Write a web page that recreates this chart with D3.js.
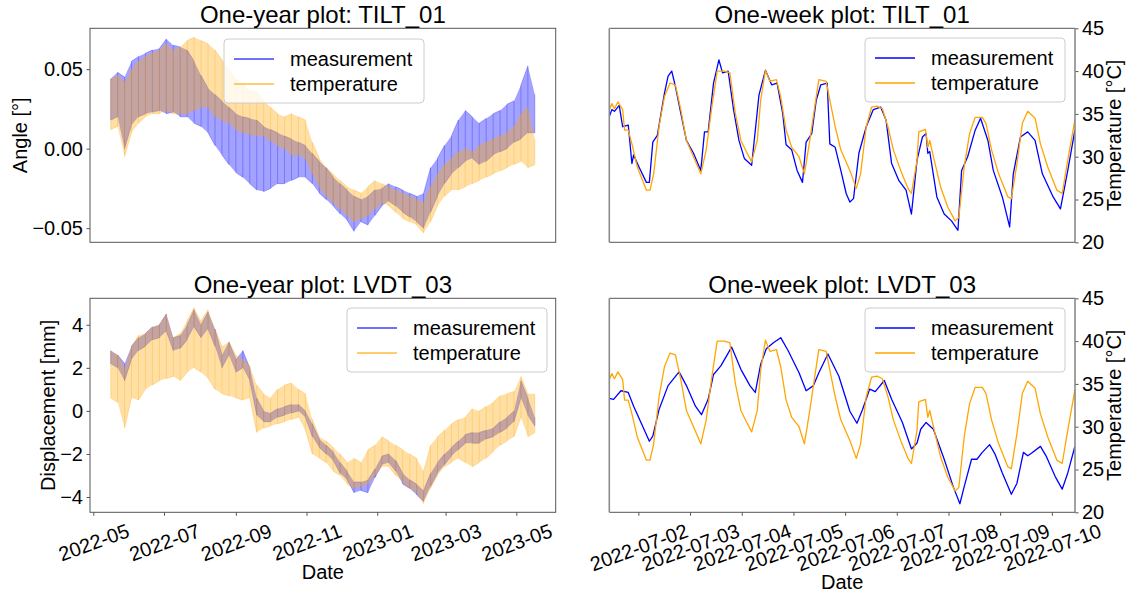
<!DOCTYPE html>
<html>
<head>
<meta charset="utf-8">
<script src="https://cdn.jsdelivr.net/npm/d3@7"></script>
<style>
  body { margin: 0; background: #fff; }
  #chart { font-family: "Liberation Sans", Arial, sans-serif; }
</style>
</head>
<body>
<svg id="chart" width="1129" height="594"></svg>
<script>
// ---------- one-year data (sampled every 6 days, upper / lower edge of the daily swing) ----------
const yearDates = [
  "2022-05-16","2022-05-22","2022-05-28","2022-06-03","2022-06-09","2022-06-15","2022-06-21","2022-06-27",
  "2022-07-03","2022-07-09","2022-07-15","2022-07-21","2022-07-27","2022-08-02","2022-08-08","2022-08-14",
  "2022-08-20","2022-08-26","2022-09-01","2022-09-07","2022-09-13","2022-09-19","2022-09-25","2022-10-01",
  "2022-10-07","2022-10-13","2022-10-19","2022-10-25","2022-10-31","2022-11-06","2022-11-12","2022-11-18",
  "2022-11-24","2022-11-30","2022-12-06","2022-12-12","2022-12-18","2022-12-24","2022-12-30","2023-01-05",
  "2023-01-11","2023-01-17","2023-01-23","2023-01-29","2023-02-04","2023-02-10","2023-02-16","2023-02-22",
  "2023-02-28","2023-03-06","2023-03-12","2023-03-18","2023-03-24","2023-03-30","2023-04-05","2023-04-11",
  "2023-04-17","2023-04-23","2023-04-29","2023-05-05","2023-05-11","2023-05-17"
];

const tiltYearMeasHi = [0.044,0.048,0.045,0.055,0.058,0.060,0.062,0.063,0.069,0.065,0.064,0.062,0.055,0.046,0.038,0.034,
  0.030,0.026,0.022,0.020,0.019,0.018,0.014,0.012,0.010,0.008,0.006,0.004,0.002,-0.003,-0.008,-0.012,
  -0.018,-0.022,-0.026,-0.030,-0.032,-0.030,-0.026,-0.025,-0.022,-0.024,-0.026,-0.028,-0.030,-0.028,-0.012,-0.006,
  0.002,0.008,0.018,0.024,0.020,0.016,0.019,0.022,0.024,0.028,0.030,0.040,0.052,0.034];
const tiltYearMeasLo = [0.018,0.020,0.000,0.015,0.020,0.022,0.023,0.024,0.022,0.023,0.020,0.020,0.016,0.014,0.010,0.002,
  -0.004,-0.010,-0.015,-0.018,-0.022,-0.026,-0.027,-0.025,-0.022,-0.022,-0.020,-0.018,-0.018,-0.022,-0.028,-0.032,
  -0.036,-0.041,-0.045,-0.052,-0.046,-0.048,-0.042,-0.036,-0.033,-0.036,-0.040,-0.043,-0.046,-0.050,-0.040,-0.030,
  -0.022,-0.016,-0.012,-0.008,-0.006,-0.010,-0.008,-0.004,-0.002,0.000,0.004,0.006,0.010,0.010];
const tiltYearTempHi = [0.044,0.046,0.042,0.050,0.055,0.058,0.060,0.062,0.066,0.062,0.064,0.068,0.070,0.068,0.066,0.062,
  0.056,0.050,0.044,0.040,0.037,0.036,0.030,0.026,0.022,0.020,0.022,0.020,0.018,0.004,-0.006,-0.012,
  -0.016,-0.020,-0.024,-0.026,-0.028,-0.024,-0.020,-0.022,-0.024,-0.026,-0.028,-0.030,-0.032,-0.034,-0.024,-0.016,
  -0.010,-0.006,-0.002,0.000,-0.002,0.002,0.004,0.006,0.008,0.010,0.014,0.022,0.026,0.006];
const tiltYearTempLo = [0.012,0.014,-0.005,0.010,0.016,0.020,0.022,0.022,0.024,0.022,0.022,0.022,0.024,0.026,0.026,0.020,
  0.018,0.016,0.012,0.010,0.009,0.008,0.008,0.005,0.002,0.000,-0.004,-0.004,-0.006,-0.016,-0.024,-0.030,
  -0.034,-0.038,-0.042,-0.046,-0.044,-0.042,-0.038,-0.034,-0.036,-0.040,-0.044,-0.046,-0.048,-0.053,-0.046,-0.036,
  -0.030,-0.026,-0.026,-0.024,-0.022,-0.020,-0.018,-0.016,-0.014,-0.012,-0.010,-0.008,-0.012,-0.010];

const lvdtYearMeasHi = [2.8,2.6,2.2,3.0,3.4,3.6,3.9,4.0,4.5,3.4,3.5,4.0,4.7,4.0,4.6,3.8,2.6,3.2,2.4,2.8,
  2.0,0.6,0.0,-0.1,0.1,0.2,0.3,0.3,0.0,-0.6,-1.3,-1.6,-1.9,-2.4,-2.8,-3.3,-3.3,-3.2,-2.7,-2.1,
  -2.0,-2.3,-2.9,-3.2,-3.4,-3.7,-2.9,-2.4,-2.0,-1.7,-1.4,-1.1,-1.0,-1.0,-0.9,-0.8,-0.5,-0.3,0.0,1.4,0.6,-0.3];
const lvdtYearMeasLo = [2.2,2.0,1.4,2.4,2.8,3.0,3.3,3.4,3.7,2.8,2.9,3.3,3.9,3.4,3.8,3.0,2.0,2.6,1.8,2.0,
  1.4,-0.2,-0.5,-0.5,-0.3,-0.2,-0.1,0.0,-0.3,-1.2,-1.7,-2.0,-2.3,-2.9,-3.2,-3.8,-3.7,-3.8,-3.1,-2.5,
  -2.4,-2.8,-3.4,-3.6,-3.9,-4.2,-3.5,-2.9,-2.5,-2.1,-1.8,-1.5,-1.5,-1.5,-1.3,-1.2,-1.0,-0.8,-0.5,0.6,-0.2,-0.7];
const lvdtYearTempHi = [2.8,2.6,2.0,3.0,3.5,3.6,3.9,4.0,4.5,3.4,3.6,4.2,4.8,4.2,4.7,3.8,3.0,3.2,2.6,2.4,
  2.1,1.2,0.8,0.6,1.0,1.2,1.3,1.0,0.8,-0.4,-1.2,-1.4,-1.7,-2.0,-2.4,-2.2,-2.4,-1.8,-1.6,-1.2,
  -1.4,-1.6,-1.8,-2.0,-2.2,-2.8,-1.6,-1.2,-0.9,-0.6,-0.4,-0.3,0.1,0.0,0.2,0.4,0.7,0.8,0.9,1.6,0.8,0.8];
const lvdtYearTempLo = [0.6,0.4,-0.8,0.6,0.5,1.0,1.2,1.4,1.5,1.6,1.4,1.8,2.0,1.8,1.5,1.0,0.8,0.7,0.6,0.5,
  0.6,-1.0,-0.8,-0.7,-0.6,-0.5,-0.4,-0.3,-0.9,-2.0,-2.2,-2.4,-2.8,-3.0,-3.4,-3.6,-3.5,-3.4,-3.0,-2.6,
  -2.6,-3.0,-3.3,-3.6,-3.8,-4.3,-3.6,-3.0,-2.6,-2.4,-2.2,-2.4,-2.6,-2.4,-2.2,-1.9,-1.6,-1.4,-1.2,-0.3,-1.2,-1.0];

// ---------- one-week data (hours counted from 2022-07-01 00:00) ----------
const weekTempHours = [10.5,11.7,12.9,14.5,16.7,17.6,19.3,21.0,23.5,26.0,27.7,29.4,31.1,33.6,36.1,38.7,41.2,43.7,46.3,49.6,
  53.0,55.5,58.1,60.6,64.0,66.5,69.0,71.6,74.1,76.6,79.2,80.8,83.0,85.1,88.1,90.1,92.6,95.2,98.6,101.1,
  103.6,106.1,107.8,111.2,112.9,115.4,118.0,122.2,125.2,127.2,129.8,132.3,134.8,137.3,139.9,142.4,145.8,149.2,150.8,153.4,
  154.2,157.3,158.4,159.3,161.0,164.3,167.7,171.1,172.8,175.3,177.8,180.4,183.7,185.4,188.0,191.3,195.6,197.2,199.8,202.3,
  204.8,208.2,210.7,214.1,218.3,220.8,223.4,226.7];
const weekTempValues = [35.5,36.2,35.6,36.4,35.5,33.1,33.1,31.5,28.8,27.2,26.1,26.1,28.0,33.5,37.0,38.6,38.4,35.5,31.9,30.0,
  28.0,30.8,35.8,40.0,40.0,39.8,35.1,31.9,30.6,29.4,31.9,36.6,40.1,38.8,39.0,37.0,33.1,31.1,30.0,28.0,
  31.9,36.2,39.0,38.8,36.6,33.5,30.8,28.4,26.3,28.0,33.5,35.8,35.9,35.6,33.5,30.8,28.4,26.3,25.7,29.6,
  32.9,33.2,31.1,31.9,30.0,26.5,24.1,22.5,22.9,28.8,32.7,34.6,34.6,33.9,30.8,28.0,25.3,25.1,29.2,33.9,
  35.3,34.5,31.5,28.8,26.1,25.7,29.6,34.3];

// measurements are drawn against the (hidden) left axis, expressed here on the temperature scale
const tiltWeekHours = [10.5,11.7,12.9,15.1,16.7,19.3,21.0,21.8,24.3,27.7,29.1,30.7,32.8,36.1,37.8,39.5,41.2,43.7,46.3,49.6,
  53.0,54.7,56.4,58.9,61.4,63.1,65.7,68.2,70.7,73.2,76.6,80.0,83.0,85.9,88.4,91.0,92.6,95.2,97.7,100.2,
  101.9,104.5,106.6,108.7,111.7,112.9,115.4,118.0,120.5,122.2,123.9,126.4,129.8,133.1,136.5,139.0,141.6,145.0,148.3,150.8,
  153.4,155.9,157.6,158.4,159.3,162.6,166.0,169.4,172.4,174.1,176.9,180.4,182.9,186.3,188.8,193.0,196.4,198.1,201.4,204.8,
  208.2,211.6,216.6,220.0,223.4,226.7];
const tiltWeekValues = [34.7,35.5,35.3,36.0,33.5,33.7,29.2,30.2,28.8,27.0,27.0,31.7,32.5,37.4,39.4,40.0,38.2,35.1,31.9,30.4,
  28.4,32.9,32.9,38.6,41.3,39.8,40.0,35.5,31.9,29.8,29.0,37.2,40.1,38.4,38.6,35.1,31.4,30.8,28.4,27.0,
  31.7,32.7,36.6,38.4,38.6,31.5,31.1,28.4,25.7,24.7,25.1,30.4,33.5,35.5,35.8,34.3,29.2,27.2,26.1,23.3,
  29.6,32.3,32.7,30.4,30.6,25.3,23.3,22.5,21.4,28.4,30.0,33.1,34.5,31.9,28.4,25.3,21.8,28.0,32.3,32.9,
  31.9,28.0,25.3,23.9,28.4,33.1];

const lvdtWeekHours = [10.5,12.5,15.9,19.3,21.8,25.2,29.1,30.7,33.6,37.8,42.9,46.3,50.5,53.3,56.4,58.9,62.3,67.3,71.6,75.8,
  78.3,80.8,83.4,86.7,90.1,93.5,98.6,101.9,105.3,107.8,112.0,117.1,122.2,125.5,128.1,131.4,134.0,138.2,141.6,146.6,
  150.8,153.4,155.1,157.6,161.0,166.0,170.2,173.3,175.3,178.7,181.2,183.7,187.1,189.6,193.0,197.2,199.8,202.8,204.8,206.5,
  210.7,213.3,217.5,220.8,223.4,226.7];
const lvdtWeekValues = [33.3,33.2,34.2,34.0,32.4,30.5,28.3,28.9,32.0,34.8,36.4,34.8,32.4,31.4,33.2,36.1,37.1,39.3,36.7,34.8,
  34.0,37.3,39.1,39.8,40.4,38.9,36.3,34.2,34.8,36.3,38.5,35.9,31.8,30.4,32.0,34.4,34.1,35.4,33.2,30.5,
  27.4,28.1,29.7,30.5,29.7,26.2,23.0,21.0,23.0,26.2,26.2,27.0,27.9,26.8,24.6,22.1,23.4,27.0,26.6,26.9,
  27.7,26.6,24.2,22.7,24.6,27.7];

// ---------- ticks ----------
const angleTicks = [-0.05, 0, 0.05];
const dispTicks = [-4, -2, 0, 2, 4];
const tempTicks = [20, 25, 30, 35, 40, 45];
const yearTickDates = ["2022-05-01","2022-07-01","2022-09-01","2022-11-01","2023-01-01","2023-03-01","2023-05-01"];
const weekTickDates = ["2022-07-02","2022-07-03","2022-07-04","2022-07-05","2022-07-06","2022-07-07","2022-07-08","2022-07-09","2022-07-10"];
const legendLabels = ["measurement", "temperature"];

// ---------- layout ----------
const BLUE = "#0000ff", ORANGE = "#ffa500", SPINE = "#555";
const panels = {
  tl: { x0: 90, x1: 555.7, y0: 28.3, y1: 242.3 },
  tr: { x0: 609.3, x1: 1075, y0: 28.3, y1: 242.3 },
  bl: { x0: 90, x1: 555.7, y0: 298.3, y1: 512.3 },
  br: { x0: 609.3, x1: 1075, y0: 298.3, y1: 512.3 }
};

const svg = d3.select("#chart");
const defs = svg.append("defs");
const parseDay = d3.utcParse("%Y-%m-%d");
const hourToDate = h => new Date(Date.UTC(2022, 6, 1) + h * 3600e3);

const yearX = d3.scaleUtc()
  .domain([new Date(Date.UTC(2022, 3, 28, 3, 36)), new Date(Date.UTC(2023, 5, 4))])
  .range([panels.tl.x0, panels.tl.x1]);
const weekX = d3.scaleUtc()
  .domain([hourToDate(10.5), hourToDate(226.75)])
  .range([panels.tr.x0, panels.tr.x1]);

function clipFor(id, b) {
  defs.append("clipPath").attr("id", id)
    .append("rect").attr("x", b.x0).attr("y", b.y0)
    .attr("width", b.x1 - b.x0).attr("height", b.y1 - b.y0);
  return `url(#${id})`;
}

function styleAxis(g) {
  g.select(".domain").remove();
  g.selectAll(".tick line").attr("stroke", SPINE);
  g.selectAll(".tick text").attr("fill", "#000").style("font-size", "20px")
    .style("font-family", '"Liberation Sans", Arial, sans-serif');
}

function title(b, txt) {
  svg.append("text")
    .attr("x", (b.x0 + b.x1) / 2).attr("y", b.y0 - 5)
    .attr("text-anchor", "middle").style("font-size", "24px")
    .text(txt);
}

function legend(x, y, colors, opacity) {
  const lg = svg.append("g").attr("transform", `translate(${x},${y})`);
  lg.append("rect").attr("width", 200).attr("height", 64).attr("rx", 4)
    .attr("fill", "#fff").attr("fill-opacity", 0.8).attr("stroke", "#ccc");
  legendLabels.forEach((lab, i) => {
    const cy = 20 + i * 25;
    lg.append("line").attr("x1", 10).attr("x2", 50).attr("y1", cy).attr("y2", cy)
      .attr("stroke", colors[i]).attr("stroke-width", 1.5).attr("stroke-opacity", opacity);
    lg.append("text").attr("x", 66).attr("y", cy).attr("dy", "0.35em")
      .style("font-size", "20px").text(lab);
  });
}

function dateAxis(b, x, ticks, fmt) {
  const g = svg.append("g").attr("transform", `translate(0,${b.y1})`)
    .call(d3.axisBottom(x).tickValues(ticks.map(parseDay)).tickFormat(fmt).tickSize(3.5).tickPadding(3.5));
  styleAxis(g);
  g.selectAll(".tick text").each(function () {
    const w = this.getComputedTextLength();
    const a = 20 * Math.PI / 180;
    const h = w * Math.sin(a) + 16 * Math.cos(a);
    d3.select(this).attr("y", 0).attr("dy", "0.35em").attr("text-anchor", "middle")
      .attr("transform", `translate(0,${10 + h / 2}) rotate(-20)`);
  });
  svg.append("text").attr("x", (b.x0 + b.x1) / 2).attr("y", b.y1 + (ticks.length > 7 ? 70 : 60))
    .attr("dy", "0.35em").attr("text-anchor", "middle").style("font-size", "20px").text("Date");
}

function yearPanel(b, key, yDomain, ticks, fmt, yLabel, labelX, meas, temp, legendPos, showDates) {
  const y = d3.scaleLinear().domain(yDomain).range([b.y1, b.y0]);
  const g = svg.append("g").attr("clip-path", clipFor("clip-" + key, b));
  [[meas, BLUE], [temp, ORANGE]].forEach(([s, color]) => {
    const rows = yearDates.map((d, i) => ({ d: parseDay(d), hi: s[0][i], lo: s[1][i] }));
    g.append("path").datum(rows)
      .attr("d", d3.area().x(r => yearX(r.d)).y0(r => y(r.lo)).y1(r => y(r.hi)))
      .attr("fill", color).attr("fill-opacity", 0.36);
    // daily swing: vertical strokes from high to low at every sample
    const swing = rows.flatMap((r, i) => i % 2 ? [[r.d, r.lo], [r.d, r.hi]] : [[r.d, r.hi], [r.d, r.lo]]);
    g.append("path").datum(swing)
      .attr("d", d3.line().x(p => yearX(p[0])).y(p => y(p[1])))
      .attr("fill", "none").attr("stroke", color).attr("stroke-opacity", 0.35).attr("stroke-width", 0.8);
  });
  const ax = svg.append("g").attr("transform", `translate(${b.x0},0)`)
    .call(d3.axisLeft(y).tickValues(ticks).tickFormat(fmt).tickSize(3.5).tickPadding(3.5));
  styleAxis(ax);
  svg.append("rect").attr("x", b.x0).attr("y", b.y0).attr("width", b.x1 - b.x0).attr("height", b.y1 - b.y0)
    .attr("fill", "none").attr("stroke", SPINE).attr("stroke-width", 1);
  svg.append("text").attr("transform", `translate(${labelX},${(b.y0 + b.y1) / 2}) rotate(-90)`)
    .attr("text-anchor", "middle").attr("dy", "0.35em").style("font-size", "20px").text(yLabel);
  legend(legendPos[0], legendPos[1], [BLUE, ORANGE], 0.75);
  if (showDates) dateAxis(b, yearX, yearTickDates, d3.utcFormat("%Y-%m"));
}

function weekPanel(b, key, measHours, measValues, legendPos, showDates) {
  const y = d3.scaleLinear().domain([20, 45]).range([b.y1, b.y0]);
  const g = svg.append("g").attr("clip-path", clipFor("clip-" + key, b));
  const line = d3.line().x(p => weekX(hourToDate(p[0]))).y(p => y(p[1]));
  g.append("path").datum(measHours.map((h, i) => [h, measValues[i]]))
    .attr("d", line).attr("fill", "none").attr("stroke", BLUE).attr("stroke-width", 1.3)
    .attr("stroke-linejoin", "round");
  g.append("path").datum(weekTempHours.map((h, i) => [h, weekTempValues[i]]))
    .attr("d", line).attr("fill", "none").attr("stroke", ORANGE).attr("stroke-width", 1.3)
    .attr("stroke-linejoin", "round");
  const ax = svg.append("g").attr("transform", `translate(${b.x1},0)`)
    .call(d3.axisRight(y).tickValues(tempTicks).tickSize(3.5).tickPadding(3.5));
  styleAxis(ax);
  svg.append("line").attr("x1", b.x0).attr("x2", b.x1).attr("y1", b.y0).attr("y2", b.y0).attr("stroke", SPINE);
  svg.append("line").attr("x1", b.x0).attr("x2", b.x1).attr("y1", b.y1).attr("y2", b.y1).attr("stroke", SPINE);
  [b.x0, b.x1].forEach(xx => svg.append("line").attr("x1", xx).attr("x2", xx).attr("y1", b.y0).attr("y2", b.y1)
    .attr("stroke", "#8a8a8a").attr("stroke-width", 1.6));
  svg.append("text").attr("transform", `translate(1114,${(b.y0 + b.y1) / 2}) rotate(-90)`)
    .attr("text-anchor", "middle").attr("dy", "0.35em").style("font-size", "20px").text("Temperature [°C]");
  legend(legendPos[0], legendPos[1], [BLUE, ORANGE], 1);
  if (showDates) dateAxis(b, weekX, weekTickDates, d3.utcFormat("%Y-%m-%d"));
}

yearPanel(panels.tl, "tl", [-0.0589, 0.0757], angleTicks, d3.format(".2f"), "Angle [°]", 20,
  [tiltYearMeasHi, tiltYearMeasLo], [tiltYearTempHi, tiltYearTempLo], [224, 39], false);
yearPanel(panels.bl, "bl", [-4.71, 5.23], dispTicks, d3.format("d"), "Displacement [mm]", 48,
  [lvdtYearMeasHi, lvdtYearMeasLo], [lvdtYearTempHi, lvdtYearTempLo], [347, 308], true);
weekPanel(panels.tr, "tr", tiltWeekHours, tiltWeekValues, [865, 38], false);
weekPanel(panels.br, "br", lvdtWeekHours, lvdtWeekValues, [865, 308], true);

title(panels.tl, "One-year plot: TILT_01");
title(panels.tr, "One-week plot: TILT_01");
title(panels.bl, "One-year plot: LVDT_03");
title(panels.br, "One-week plot: LVDT_03");
</script>
</body>
</html>
